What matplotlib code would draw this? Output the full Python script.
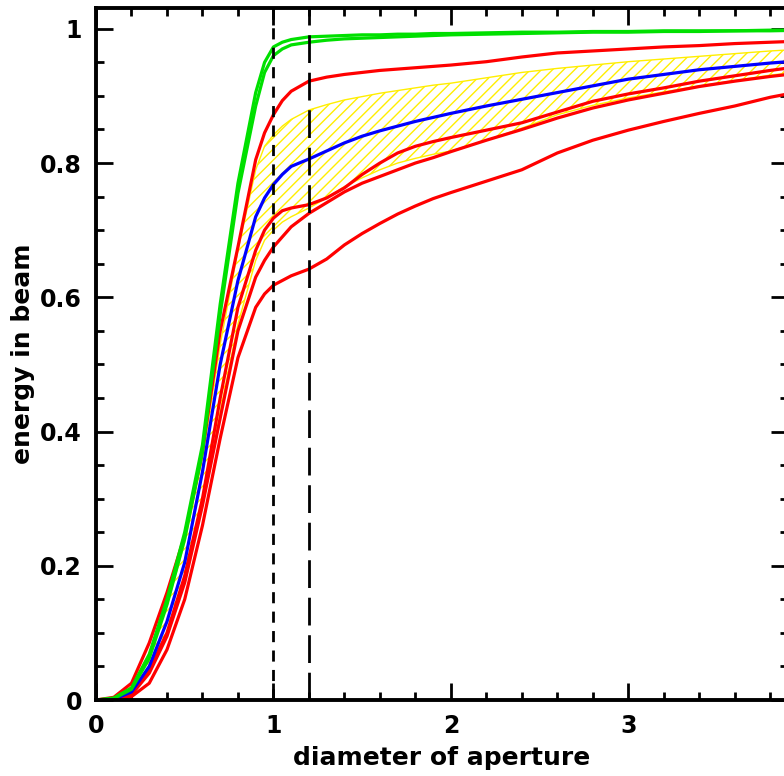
import matplotlib
matplotlib.use("Agg")
import matplotlib.pyplot as plt
from matplotlib.ticker import MultipleLocator

# diameter of aperture (shared grid for all curves)
diam = [0, 0.1, 0.2, 0.3, 0.4, 0.5, 0.6, 0.7, 0.8, 0.9, 0.95, 1.0, 1.05, 1.1, 1.2, 1.3, 1.4,
        1.5, 1.6, 1.7, 1.8, 1.9, 2.0, 2.2, 2.4, 2.6, 2.8, 3.0, 3.2, 3.4, 3.6, 3.8, 4.0]

green_1 = [0, 0.003, 0.018, 0.068, 0.15, 0.25, 0.38, 0.59, 0.77, 0.905, 0.95, 0.973, 0.980, 0.984,
           0.988, 0.989, 0.990, 0.991, 0.991, 0.992, 0.992, 0.993, 0.993, 0.994, 0.995, 0.995,
           0.996, 0.996, 0.997, 0.997, 0.997, 0.998, 0.998]
green_2 = [0, 0.002, 0.016, 0.062, 0.142, 0.24, 0.37, 0.575, 0.755, 0.885, 0.935, 0.96, 0.970,
           0.976, 0.980, 0.983, 0.985, 0.986, 0.987, 0.988, 0.989, 0.990, 0.991, 0.992, 0.993,
           0.994, 0.995, 0.995, 0.996, 0.996, 0.997, 0.997, 0.998]
red_1 = [0, 0.004, 0.025, 0.085, 0.16, 0.245, 0.37, 0.55, 0.675, 0.805, 0.845, 0.872, 0.893,
         0.907, 0.922, 0.928, 0.932, 0.935, 0.938, 0.940, 0.942, 0.944, 0.946, 0.951, 0.958,
         0.964, 0.967, 0.970, 0.973, 0.975, 0.978, 0.980, 0.982]
red_2 = [0, 0.001, 0.01, 0.045, 0.10, 0.185, 0.30, 0.45, 0.585, 0.67, 0.70, 0.718, 0.729, 0.733,
         0.738, 0.748, 0.763, 0.783, 0.80, 0.815, 0.825, 0.832, 0.838, 0.849, 0.860, 0.876,
         0.892, 0.903, 0.912, 0.922, 0.93, 0.938, 0.945]
red_3 = [0, 0.001, 0.008, 0.04, 0.095, 0.175, 0.29, 0.42, 0.55, 0.63, 0.655, 0.675, 0.69, 0.705,
         0.725, 0.741, 0.757, 0.77, 0.78, 0.79, 0.80, 0.808, 0.817, 0.834, 0.85, 0.867, 0.882,
         0.894, 0.904, 0.914, 0.922, 0.929, 0.935]
red_4 = [0, 0.0, 0.005, 0.025, 0.075, 0.15, 0.26, 0.39, 0.51, 0.585, 0.605, 0.618, 0.625, 0.632,
         0.642, 0.657, 0.678, 0.695, 0.71, 0.724, 0.736, 0.747, 0.756, 0.773, 0.79, 0.815,
         0.834, 0.849, 0.862, 0.874, 0.885, 0.898, 0.908]
blue = [0, 0.001, 0.012, 0.05, 0.117, 0.205, 0.34, 0.50, 0.625, 0.72, 0.748, 0.768, 0.783,
        0.795, 0.806, 0.818, 0.83, 0.84, 0.848, 0.855, 0.862, 0.868, 0.874, 0.885, 0.895,
        0.905, 0.915, 0.925, 0.932, 0.939, 0.944, 0.949, 0.953]
band_hi = [0, 0.003, 0.02, 0.07, 0.14, 0.235, 0.36, 0.53, 0.67, 0.79, 0.825, 0.842, 0.855,
           0.865, 0.879, 0.887, 0.894, 0.899, 0.904, 0.908, 0.912, 0.916, 0.919, 0.927, 0.935,
           0.941, 0.946, 0.951, 0.955, 0.959, 0.963, 0.967, 0.970]
band_lo = [0, 0.001, 0.01, 0.042, 0.098, 0.18, 0.29, 0.43, 0.56, 0.655, 0.685, 0.70, 0.712,
           0.72, 0.733, 0.748, 0.765, 0.778, 0.79, 0.80, 0.807, 0.813, 0.818, 0.834, 0.852,
           0.872, 0.886, 0.897, 0.906, 0.915, 0.923, 0.931, 0.937]

plt.rcParams['font.family'] = 'DejaVu Sans'
plt.rcParams['font.weight'] = 'bold'
plt.rcParams['axes.labelweight'] = 'bold'
plt.rcParams['hatch.linewidth'] = 1.0

fig = plt.figure(figsize=(7.84, 7.76), dpi=100)
ax = fig.add_axes([96 / 784, 76 / 776, (788 - 96) / 784, (768 - 76) / 776])

# yellow hatched band
ax.fill_between(diam, band_lo, band_hi, facecolor='none', edgecolor='#ffee00',
                hatch='///', linewidth=1.0)

for y in [red_1, red_2, red_3, red_4]:
    ax.plot(diam, y, color='#ff0000', lw=2.3)
ax.plot(diam, blue, color='#0000ff', lw=2.3)
ax.plot(diam, green_1, color='#00e000', lw=2.3)
ax.plot(diam, green_2, color='#00e000', lw=2.3)

ax.axvline(1.0, color='black', lw=2.0, dashes=(4, 3))
ax.axvline(1.2, color='black', lw=2.0, dashes=(10, 3.5))

ax.set_xlim(0, 3.9)
ax.set_ylim(0, 1.031)
ax.xaxis.set_major_locator(MultipleLocator(1))
ax.xaxis.set_minor_locator(MultipleLocator(0.2))
ax.yaxis.set_major_locator(MultipleLocator(0.2))
ax.yaxis.set_minor_locator(MultipleLocator(0.05))
ax.tick_params(which='both', direction='in', top=True, right=True, width=2, labelsize=17)
ax.tick_params(which='major', length=12, pad=10)
ax.tick_params(which='minor', length=6)
ax.set_xticks([0, 1, 2, 3])
ax.set_xticklabels(['0', '1', '2', '3'])
ax.set_yticks([0, 0.2, 0.4, 0.6, 0.8, 1.0])
ax.set_yticklabels(['0', '0.2', '0.4', '0.6', '0.8', '1'])
for s in ax.spines.values():
    s.set_linewidth(2.8)

ax.set_xlabel('diameter of aperture', fontsize=18, labelpad=6)
ax.set_ylabel('energy in beam', fontsize=18, labelpad=4)

fig.savefig('out.png', dpi=100)
